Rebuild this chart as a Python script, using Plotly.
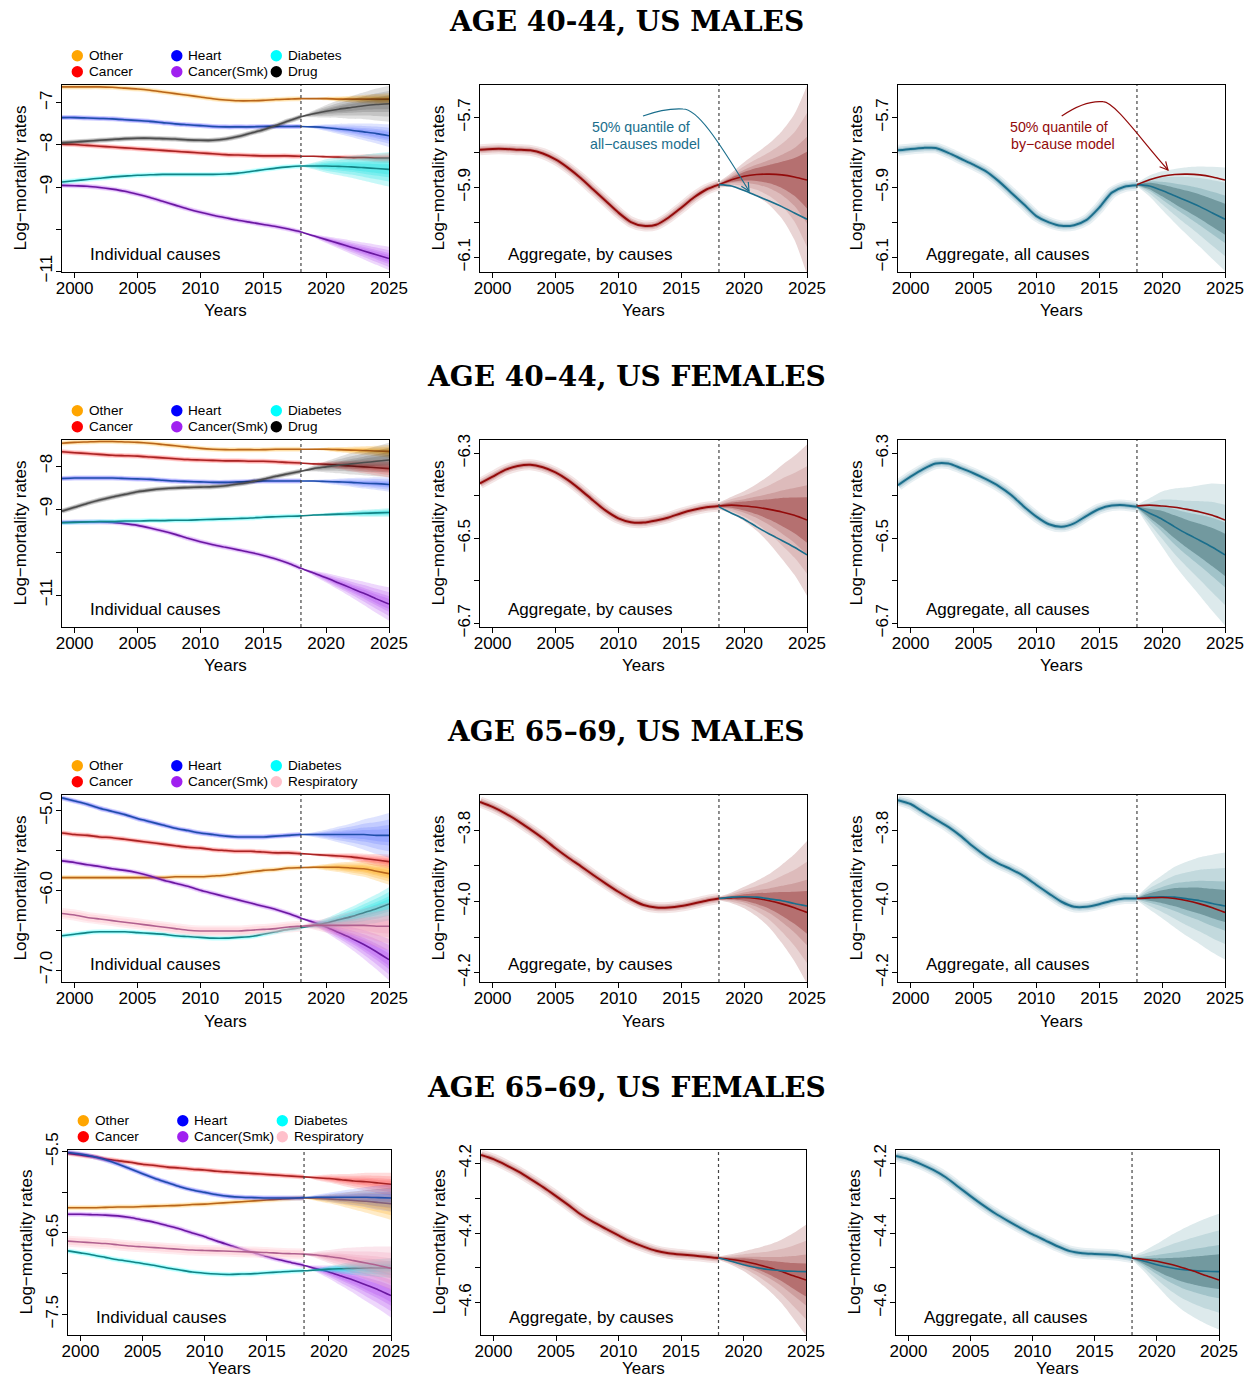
import math
import plotly.graph_objects as go

# ---------------------------------------------------------------- data
YEARS = list(range(1999, 2026))          # 1999..2025
HIST_YEARS = list(range(1999, 2019))     # 1999..2018
FC_YEARS = list(range(2018, 2026))       # 2018..2025
X_TICKS = [2000, 2005, 2010, 2015, 2020, 2025]

# --- AGE 40-44, US MALES : cause-specific medians (1999..2025)
m40_other = [-6.62, -6.62, -6.62, -6.62, -6.63, -6.65, -6.67, -6.70, -6.74, -6.78, -6.82, -6.86, -6.90, -6.93,
             -6.95, -6.95, -6.94, -6.92, -6.91, -6.90, -6.90, -6.90, -6.91, -6.91, -6.91, -6.91, -6.91]
m40_cancer = [-7.98, -7.99, -8.01, -8.03, -8.05, -8.07, -8.09, -8.11, -8.13, -8.15, -8.17, -8.19, -8.21, -8.23,
              -8.24, -8.25, -8.26, -8.26, -8.26, -8.27, -8.27, -8.28, -8.29, -8.30, -8.30, -8.31, -8.31]
m40_heart = [-7.35, -7.35, -7.36, -7.37, -7.38, -7.40, -7.42, -7.44, -7.47, -7.50, -7.52, -7.54, -7.56, -7.57,
             -7.57, -7.57, -7.56, -7.56, -7.56, -7.56, -7.57, -7.59, -7.62, -7.65, -7.69, -7.73, -7.78]
m40_smk = [-8.96, -8.97, -8.98, -9.01, -9.05, -9.10, -9.17, -9.25, -9.34, -9.43, -9.52, -9.60, -9.67, -9.73,
           -9.79, -9.84, -9.89, -9.94, -10.00, -10.07, -10.16, -10.25, -10.34, -10.43, -10.52, -10.61, -10.70]
m40_diab = [-8.88, -8.85, -8.82, -8.79, -8.76, -8.74, -8.72, -8.71, -8.70, -8.70, -8.70, -8.70, -8.70, -8.69,
            -8.67, -8.63, -8.59, -8.55, -8.52, -8.50, -8.50, -8.50, -8.51, -8.52, -8.54, -8.56, -8.58]
m40_drug = [-7.95, -7.93, -7.91, -7.89, -7.87, -7.85, -7.84, -7.84, -7.85, -7.86, -7.88, -7.89, -7.89, -7.86,
            -7.80, -7.72, -7.64, -7.54, -7.43, -7.33, -7.26, -7.20, -7.15, -7.11, -7.07, -7.04, -7.02]
# outer fan half-widths, 2018..2025
m40_other_sp = [0.005, 0.02, 0.04, 0.06, 0.08, 0.10, 0.12, 0.14]
m40_cancer_sp = [0.005, 0.02, 0.035, 0.05, 0.065, 0.08, 0.10, 0.12]
m40_heart_sp = [0.005, 0.04, 0.08, 0.12, 0.16, 0.20, 0.235, 0.27]
m40_smk_sp = [0.005, 0.04, 0.08, 0.12, 0.16, 0.20, 0.24, 0.28]
m40_diab_sp = [0.01, 0.08, 0.16, 0.21, 0.26, 0.31, 0.36, 0.41]
m40_drug_sp = [0.01, 0.08, 0.15, 0.21, 0.27, 0.32, 0.38, 0.43]

# --- AGE 40-44, US FEMALES
f40_other = [-7.47, -7.45, -7.44, -7.43, -7.43, -7.44, -7.45, -7.47, -7.50, -7.53, -7.56, -7.59, -7.61, -7.62,
             -7.62, -7.62, -7.62, -7.61, -7.61, -7.61, -7.61, -7.61, -7.62, -7.63, -7.64, -7.65, -7.66]
f40_cancer = [-7.67, -7.69, -7.71, -7.73, -7.75, -7.76, -7.77, -7.79, -7.81, -7.83, -7.85, -7.86, -7.87, -7.88,
              -7.88, -7.89, -7.89, -7.90, -7.92, -7.93, -7.95, -7.96, -7.98, -8.00, -8.02, -8.04, -8.06]
f40_heart = [-8.29, -8.28, -8.28, -8.28, -8.28, -8.29, -8.30, -8.31, -8.33, -8.35, -8.36, -8.37, -8.38, -8.38,
             -8.37, -8.36, -8.35, -8.35, -8.35, -8.35, -8.35, -8.36, -8.37, -8.38, -8.40, -8.41, -8.43]
f40_smk = [-9.31, -9.30, -9.30, -9.30, -9.31, -9.34, -9.38, -9.44, -9.51, -9.59, -9.68, -9.76, -9.83, -9.89,
           -9.95, -10.01, -10.08, -10.16, -10.26, -10.38, -10.49, -10.60, -10.72, -10.84, -10.96, -11.09, -11.21]
f40_diab = [-9.32, -9.31, -9.30, -9.29, -9.29, -9.28, -9.28, -9.27, -9.27, -9.26, -9.26, -9.25, -9.24, -9.23,
            -9.22, -9.21, -9.19, -9.18, -9.17, -9.16, -9.14, -9.13, -9.12, -9.11, -9.10, -9.09, -9.08]
f40_drug = [-9.05, -8.96, -8.87, -8.79, -8.72, -8.66, -8.60, -8.56, -8.53, -8.51, -8.50, -8.49, -8.48, -8.46,
            -8.42, -8.37, -8.31, -8.24, -8.18, -8.12, -8.06, -8.02, -7.98, -7.95, -7.92, -7.89, -7.86]
f40_other_sp = [0.005, 0.02, 0.04, 0.06, 0.08, 0.10, 0.12, 0.15]
f40_cancer_sp = [0.005, 0.03, 0.06, 0.09, 0.12, 0.15, 0.18, 0.21]
f40_heart_sp = [0.005, 0.025, 0.05, 0.075, 0.10, 0.125, 0.15, 0.17]
f40_smk_sp = [0.01, 0.06, 0.11, 0.16, 0.21, 0.27, 0.33, 0.39]
f40_diab_sp = [0.005, 0.02, 0.035, 0.05, 0.065, 0.08, 0.09, 0.10]
f40_drug_sp = [0.01, 0.07, 0.13, 0.19, 0.25, 0.30, 0.35, 0.40]

# --- AGE 65-69, US MALES
m65_other = [-5.84, -5.84, -5.84, -5.84, -5.84, -5.84, -5.84, -5.84, -5.84, -5.83, -5.83, -5.83, -5.82, -5.81,
             -5.79, -5.77, -5.75, -5.74, -5.72, -5.715, -5.71, -5.71, -5.71, -5.72, -5.73, -5.76, -5.79]
m65_cancer = [-5.28, -5.30, -5.31, -5.33, -5.34, -5.36, -5.38, -5.40, -5.42, -5.44, -5.46, -5.47, -5.49, -5.50,
              -5.51, -5.51, -5.52, -5.53, -5.53, -5.54, -5.55, -5.56, -5.57, -5.58, -5.60, -5.62, -5.64]
m65_heart = [-4.84, -4.88, -4.92, -4.97, -5.01, -5.05, -5.10, -5.14, -5.18, -5.22, -5.25, -5.28, -5.30, -5.32,
             -5.33, -5.33, -5.33, -5.32, -5.31, -5.30, -5.30, -5.30, -5.30, -5.30, -5.30, -5.31, -5.31]
m65_smk = [-5.63, -5.65, -5.68, -5.70, -5.73, -5.75, -5.78, -5.82, -5.87, -5.91, -5.95, -6.00, -6.04, -6.08,
           -6.12, -6.16, -6.20, -6.24, -6.29, -6.35, -6.40, -6.46, -6.53, -6.60, -6.68, -6.77, -6.87]
m65_diab = [-6.57, -6.55, -6.53, -6.52, -6.52, -6.52, -6.53, -6.54, -6.55, -6.57, -6.58, -6.59, -6.60, -6.60,
            -6.59, -6.58, -6.55, -6.52, -6.49, -6.47, -6.44, -6.41, -6.37, -6.33, -6.28, -6.23, -6.17]
m65_resp = [-6.29, -6.31, -6.34, -6.36, -6.38, -6.40, -6.42, -6.44, -6.46, -6.48, -6.50, -6.51, -6.51, -6.51,
            -6.51, -6.50, -6.49, -6.48, -6.46, -6.45, -6.44, -6.44, -6.44, -6.44, -6.44, -6.45, -6.45]
m65_other_sp = [0.005, 0.02, 0.04, 0.06, 0.08, 0.10, 0.12, 0.14]
m65_cancer_sp = [0.005, 0.015, 0.025, 0.035, 0.045, 0.06, 0.075, 0.09]
m65_heart_sp = [0.005, 0.03, 0.06, 0.10, 0.14, 0.19, 0.235, 0.28]
m65_smk_sp = [0.005, 0.035, 0.07, 0.10, 0.14, 0.18, 0.22, 0.26]
m65_diab_sp = [0.005, 0.03, 0.06, 0.09, 0.12, 0.15, 0.18, 0.21]
m65_resp_sp = [0.01, 0.05, 0.09, 0.13, 0.17, 0.21, 0.26, 0.30]

# --- AGE 65-69, US FEMALES
f65_other = [-6.19, -6.19, -6.19, -6.185, -6.18, -6.18, -6.175, -6.17, -6.165, -6.16, -6.15, -6.145, -6.135, -6.125,
             -6.115, -6.105, -6.095, -6.085, -6.075, -6.07, -6.075, -6.08, -6.09, -6.10, -6.11, -6.125, -6.14]
f65_cancer = [-5.52, -5.54, -5.56, -5.59, -5.61, -5.63, -5.655, -5.67, -5.69, -5.70, -5.715, -5.725, -5.74, -5.75,
              -5.76, -5.77, -5.78, -5.79, -5.80, -5.81, -5.82, -5.83, -5.845, -5.86, -5.87, -5.885, -5.90]
f65_heart = [-5.51, -5.53, -5.56, -5.60, -5.65, -5.71, -5.77, -5.83, -5.88, -5.93, -5.97, -6.00, -6.03, -6.05,
             -6.06, -6.065, -6.07, -6.07, -6.07, -6.065, -6.06, -6.06, -6.06, -6.06, -6.06, -6.065, -6.07]
f65_smk = [-6.27, -6.27, -6.275, -6.28, -6.29, -6.31, -6.34, -6.37, -6.41, -6.45, -6.50, -6.545, -6.60, -6.65,
           -6.70, -6.745, -6.79, -6.83, -6.865, -6.90, -6.94, -6.98, -7.03, -7.08, -7.14, -7.20, -7.27]
f65_diab = [-6.72, -6.745, -6.77, -6.80, -6.83, -6.85, -6.875, -6.90, -6.93, -6.955, -6.98, -6.995, -7.005, -7.01,
            -7.005, -7.0, -6.99, -6.98, -6.97, -6.965, -6.955, -6.945, -6.94, -6.935, -6.93, -6.93, -6.93]
f65_resp = [-6.60, -6.61, -6.62, -6.63, -6.645, -6.66, -6.67, -6.68, -6.69, -6.70, -6.71, -6.715, -6.72, -6.725,
            -6.73, -6.735, -6.74, -6.75, -6.755, -6.76, -6.77, -6.79, -6.81, -6.84, -6.87, -6.90, -6.935]
f65_other_sp = [0.005, 0.03, 0.055, 0.08, 0.11, 0.14, 0.17, 0.20]
f65_cancer_sp = [0.005, 0.03, 0.05, 0.07, 0.09, 0.11, 0.125, 0.14]
f65_heart_sp = [0.005, 0.03, 0.055, 0.08, 0.10, 0.125, 0.15, 0.17]
f65_smk_sp = [0.005, 0.04, 0.08, 0.12, 0.16, 0.20, 0.235, 0.27]
f65_diab_sp = [0.005, 0.02, 0.04, 0.06, 0.08, 0.10, 0.11, 0.12]
f65_resp_sp = [0.005, 0.04, 0.08, 0.12, 0.16, 0.20, 0.235, 0.27]

# --- aggregate log-mortality: fitted history (1999..2018), 50% quantiles and fan half-widths (2018..2025)
m40_hist_bc = [-5.792, -5.790, -5.790, -5.792, -5.794, -5.803, -5.820, -5.844, -5.873, -5.906, -5.939, -5.972,
               -5.999, -6.010, -6.007, -5.986, -5.958, -5.929, -5.906, -5.892]
m40_hist_ac = [-5.794, -5.790, -5.787, -5.787, -5.801, -5.818, -5.835, -5.854, -5.882, -5.915, -5.948, -5.982,
               -6.000, -6.010, -6.008, -5.993, -5.958, -5.915, -5.898, -5.894]
m40_fc_bc = [-5.892, -5.878, -5.868, -5.863, -5.862, -5.864, -5.870, -5.879]
m40_fc_ac = [-5.892, -5.896, -5.909, -5.924, -5.939, -5.955, -5.973, -5.991]
m40_sp_bc = [0.008, 0.02, 0.04, 0.062, 0.088, 0.125, 0.18, 0.27]
m40_sp_ac = [0.005, 0.03, 0.055, 0.077, 0.097, 0.115, 0.132, 0.148]

f40_hist_bc = [-6.371, -6.355, -6.339, -6.330, -6.327, -6.333, -6.345, -6.363, -6.386, -6.411, -6.435, -6.453,
               -6.462, -6.463, -6.458, -6.451, -6.441, -6.433, -6.427, -6.424]
f40_hist_ac = [-6.375, -6.355, -6.337, -6.324, -6.324, -6.335, -6.347, -6.361, -6.377, -6.398, -6.425, -6.449,
               -6.467, -6.473, -6.465, -6.447, -6.431, -6.423, -6.422, -6.426]
f40_fc_bc = [-6.424, -6.422, -6.424, -6.427, -6.432, -6.438, -6.446, -6.457]
f40_fc_ac = [-6.426, -6.441, -6.455, -6.473, -6.490, -6.505, -6.521, -6.539]
f40_sp_bc = [0.008, 0.02, 0.035, 0.055, 0.08, 0.11, 0.14, 0.178]
f40_sp_ac = [0.005, 0.035, 0.065, 0.09, 0.11, 0.13, 0.15, 0.166]

m65_hist_bc = [-3.721, -3.735, -3.753, -3.774, -3.798, -3.823, -3.851, -3.877, -3.901, -3.926, -3.950, -3.973,
               -3.994, -4.010, -4.017, -4.017, -4.013, -4.006, -3.998, -3.992]
m65_hist_ac = [-3.716, -3.727, -3.749, -3.770, -3.791, -3.817, -3.847, -3.873, -3.894, -3.910, -3.929, -3.954,
               -3.978, -4.001, -4.015, -4.015, -4.008, -3.998, -3.992, -3.992]
m65_fc_bc = [-3.992, -3.990, -3.989, -3.992, -3.998, -4.007, -4.018, -4.031]
m65_fc_ac = [-3.992, -3.988, -3.987, -3.988, -3.993, -3.998, -4.006, -4.013]
m65_sp_bc = [0.005, 0.015, 0.03, 0.05, 0.075, 0.11, 0.15, 0.20]
m65_sp_ac = [0.005, 0.035, 0.06, 0.085, 0.105, 0.122, 0.137, 0.15]

f65_hist_bc = [-4.176, -4.188, -4.205, -4.224, -4.246, -4.269, -4.294, -4.320, -4.347, -4.369, -4.388, -4.407,
               -4.425, -4.439, -4.451, -4.458, -4.462, -4.465, -4.468, -4.472]
f65_hist_ac = [-4.179, -4.188, -4.202, -4.219, -4.240, -4.267, -4.294, -4.320, -4.344, -4.365, -4.385, -4.404,
               -4.421, -4.438, -4.452, -4.458, -4.460, -4.462, -4.465, -4.471]
f65_fc_bc = [-4.472, -4.476, -4.481, -4.489, -4.499, -4.510, -4.523, -4.535]
f65_fc_ac = [-4.472, -4.481, -4.491, -4.499, -4.505, -4.508, -4.510, -4.511]
f65_sp_bc = [0.005, 0.015, 0.028, 0.045, 0.065, 0.09, 0.123, 0.159]
f65_sp_ac = [0.005, 0.03, 0.06, 0.09, 0.115, 0.135, 0.152, 0.166]

# fan levels as fractions of the outer half-width (outer -> inner)
BAND_FRAC = [1.0, 0.71, 0.46, 0.30]

ROW_TITLES = ["AGE 40-44, US MALES", "AGE 40\u201344, US FEMALES",
              "AGE 65\u201369, US MALES", "AGE 65\u201369, US FEMALES"]
PANEL_LABELS = ["Individual causes", "Aggregate, by causes", "Aggregate, all causes"]

# ---------------------------------------------------------------- styles
CAUSE_STYLE = {
    "Other": dict(dot="#FFA500", line="#B8651B", fill="rgba(255,165,0,0.22)"),
    "Cancer": dict(dot="#FF0000", line="#A82424", fill="rgba(255,40,40,0.16)"),
    "Heart": dict(dot="#0000FF", line="#1F4EAA", fill="rgba(60,90,255,0.17)"),
    "Cancer(Smk)": dict(dot="#A020F0", line="#6A18A0", fill="rgba(160,32,240,0.18)"),
    "Diabetes": dict(dot="#00FFFF", line="#138486", fill="rgba(0,225,225,0.22)"),
    "Drug": dict(dot="#000000", line="#4D4D4D", fill="rgba(0,0,0,0.12)"),
    "Respiratory": dict(dot="#FFC0CB", line="#B0608F", fill="rgba(235,140,175,0.22)"),
}
RED_LINE = "#930A0A"
BLUE_LINE = "#1A6E8C"
RED_FAN = ["#E9D4D4", "#DDBBBB", "#CE9F9F", "#B57070"]
BLUE_FAN = ["#DDEAEC", "#C2D9DD", "#A1C3C9", "#72999F"]

ROWS = [
    dict(causes=[("Other", m40_other, m40_other_sp), ("Cancer", m40_cancer, m40_cancer_sp),
                 ("Heart", m40_heart, m40_heart_sp), ("Cancer(Smk)", m40_smk, m40_smk_sp),
                 ("Diabetes", m40_diab, m40_diab_sp), ("Drug", m40_drug, m40_drug_sp)],
         hist_bc=m40_hist_bc, hist_ac=m40_hist_ac, fc_bc=m40_fc_bc, fc_ac=m40_fc_ac,
         sp_bc=m40_sp_bc, sp_ac=m40_sp_ac,
         yc=dict(rng=[-11.02, -6.575], vals=[-7, -8, -9, -10, -11], txt=["\u22127", "\u22128", "\u22129", "", "\u221211"]),
         ya=dict(rng=[-6.142, -5.607], vals=[-5.7, -5.8, -5.9, -6.0, -6.1], txt=["\u22125.7", "", "\u22125.9", "", "\u22126.1"])),
    dict(causes=[("Other", f40_other, f40_other_sp), ("Cancer", f40_cancer, f40_cancer_sp),
                 ("Heart", f40_heart, f40_heart_sp), ("Cancer(Smk)", f40_smk, f40_smk_sp),
                 ("Diabetes", f40_diab, f40_diab_sp), ("Drug", f40_drug, f40_drug_sp)],
         hist_bc=f40_hist_bc, hist_ac=f40_hist_ac, fc_bc=f40_fc_bc, fc_ac=f40_fc_ac,
         sp_bc=f40_sp_bc, sp_ac=f40_sp_ac,
         yc=dict(rng=[-11.744, -7.395], vals=[-8, -9, -10, -11], txt=["\u22128", "\u22129", "", "\u221211"]),
         ya=dict(rng=[-6.7087, -6.2687], vals=[-6.3, -6.4, -6.5, -6.6, -6.7], txt=["\u22126.3", "", "\u22126.5", "", "\u22126.7"])),
    dict(causes=[("Other", m65_other, m65_other_sp), ("Cancer", m65_cancer, m65_cancer_sp),
                 ("Heart", m65_heart, m65_heart_sp), ("Cancer(Smk)", m65_smk, m65_smk_sp),
                 ("Diabetes", m65_diab, m65_diab_sp), ("Respiratory", m65_resp, m65_resp_sp)],
         hist_bc=m65_hist_bc, hist_ac=m65_hist_ac, fc_bc=m65_fc_bc, fc_ac=m65_fc_ac,
         sp_bc=m65_sp_bc, sp_ac=m65_sp_ac,
         yc=dict(rng=[-7.15, -4.804], vals=[-5.0, -5.5, -6.0, -6.5, -7.0], txt=["\u22125.0", "", "\u22126.0", "", "\u22127.0"]),
         ya=dict(rng=[-4.226, -3.7017], vals=[-3.8, -3.9, -4.0, -4.1, -4.2], txt=["\u22123.8", "", "\u22124.0", "", "\u22124.2"])),
    dict(causes=[("Other", f65_other, f65_other_sp), ("Cancer", f65_cancer, f65_cancer_sp),
                 ("Heart", f65_heart, f65_heart_sp), ("Cancer(Smk)", f65_smk, f65_smk_sp),
                 ("Diabetes", f65_diab, f65_diab_sp), ("Respiratory", f65_resp, f65_resp_sp)],
         hist_bc=f65_hist_bc, hist_ac=f65_hist_ac, fc_bc=f65_fc_bc, fc_ac=f65_fc_ac,
         sp_bc=f65_sp_bc, sp_ac=f65_sp_ac,
         yc=dict(rng=[-7.755, -5.479], vals=[-5.5, -6.0, -6.5, -7.0, -7.5], txt=["\u22125.5", "", "\u22126.5", "", "\u22127.5"]),
         ya=dict(rng=[-4.693, -4.1616], vals=[-4.2, -4.3, -4.4, -4.5, -4.6], txt=["\u22124.2", "", "\u22124.4", "", "\u22124.6"])),
]
LEGEND_COLS = [["Other", "Cancer"], ["Heart", "Cancer(Smk)"]]

# ---------------------------------------------------------------- layout geometry (pixels)
W, H = 1247, 1379
FONT = "Liberation Sans, Arial, Helvetica, sans-serif"
SERIF = "DejaVu Serif, serif"
PANEL_X = [[(62, 389), (480, 807), (898, 1225)]] * 3 + [[(68, 391), (481, 806), (896, 1219)]]
PANEL_Y = [(85, 272), (440, 627), (795, 982), (1150, 1335)]
TITLE_Y = [21, 377, 732, 1087]
YEARS_GAP = [39, 39, 39, 33]


def px(x):
    return x / W


def py(y):
    return 1 - y / H


fig = go.Figure()
layout = dict(width=W, height=H, autosize=False, margin=dict(l=0, r=0, t=0, b=0, pad=0, autoexpand=False),
              paper_bgcolor="white", plot_bgcolor="white", showlegend=False)
annotations, shapes = [], []


def refs(k):
    return ("x" if k == 1 else f"x{k}"), ("y" if k == 1 else f"y{k}")


def add_fan(xr, yr, med, spread, colors):
    for f, col in zip(BAND_FRAC, colors):
        lo = [m - f * s for m, s in zip(med, spread)]
        hi = [m + f * s for m, s in zip(med, spread)]
        fig.add_trace(go.Scatter(x=FC_YEARS, y=lo, xaxis=xr, yaxis=yr, mode="lines",
                                 line=dict(width=0, shape="spline", smoothing=0.7), hoverinfo="skip"))
        fig.add_trace(go.Scatter(x=FC_YEARS, y=hi, xaxis=xr, yaxis=yr, mode="lines",
                                 line=dict(width=0, shape="spline", smoothing=0.7),
                                 fill="tonexty", fillcolor=col, hoverinfo="skip"))


def add_line(xr, yr, x, y, color, width):
    fig.add_trace(go.Scatter(x=x, y=y, xaxis=xr, yaxis=yr, mode="lines",
                             line=dict(color=color, width=width, shape="spline", smoothing=0.7),
                             hoverinfo="skip"))


def rgba(hexcol, a):
    h = hexcol.lstrip("#")
    return f"rgba({int(h[0:2], 16)},{int(h[2:4], 16)},{int(h[4:6], 16)},{a})"


def add_blur(xr, yr, x, y, hexcol, widths=(11, 7, 4), alphas=(0.10, 0.16, 0.25)):
    for w_, a_ in zip(widths, alphas):
        add_line(xr, yr, x, y, rgba(hexcol, a_), w_)


for r, row in enumerate(ROWS):
    y0, y1 = PANEL_Y[r]
    for c in range(3):
        k = r * 3 + c + 1
        xr, yr = refs(k)
        x0, x1 = PANEL_X[r][c]
        ycfg = row["yc"] if c == 0 else row["ya"]
        axis_common = dict(showline=True, linecolor="black", linewidth=1, mirror=True, showgrid=False,
                           zeroline=False, ticks="outside", ticklen=5, tickwidth=1, tickcolor="black",
                           tickfont=dict(family=FONT, size=17, color="black"), fixedrange=True)
        layout["xaxis" if k == 1 else f"xaxis{k}"] = dict(
            domain=[px(x0), px(x1)], range=[1999, 2025], anchor=yr, ticklabelstandoff=-4,
            tickmode="array", tickvals=X_TICKS, ticktext=[str(v) for v in X_TICKS], **axis_common)
        layout["yaxis" if k == 1 else f"yaxis{k}"] = dict(
            domain=[py(y1), py(y0)], range=ycfg["rng"], anchor=xr, tickangle=-90, ticklabelstandoff=-3,
            tickmode="array", tickvals=ycfg["vals"], ticktext=ycfg["txt"], **axis_common)

        # traces
        if c == 0:
            for name, med, sp in row["causes"]:
                st = CAUSE_STYLE[name]
                add_fan(xr, yr, med[19:], sp, [st["fill"]] * len(BAND_FRAC))
                if name == "Respiratory":
                    add_blur(xr, yr, HIST_YEARS, med[:20], st["dot"], widths=(11, 7), alphas=(0.3, 0.4))
                else:
                    add_blur(xr, yr, HIST_YEARS, med[:20], st["dot"], widths=(5, 3), alphas=(0.18, 0.25))
                add_line(xr, yr, YEARS, med, st["line"], 1.6)
        elif c == 1:
            add_fan(xr, yr, row["fc_bc"], row["sp_bc"], RED_FAN)
            add_blur(xr, yr, HIST_YEARS, row["hist_bc"], RED_LINE)
            add_line(xr, yr, HIST_YEARS, row["hist_bc"], RED_LINE, 2)
            add_line(xr, yr, FC_YEARS, row["fc_bc"], RED_LINE, 1.6)
            add_line(xr, yr, FC_YEARS, row["fc_ac"], BLUE_LINE, 1.6)
        else:
            add_fan(xr, yr, row["fc_ac"], row["sp_ac"], BLUE_FAN)
            add_blur(xr, yr, HIST_YEARS, row["hist_ac"], BLUE_LINE)
            add_line(xr, yr, HIST_YEARS, row["hist_ac"], BLUE_LINE, 2)
            add_line(xr, yr, FC_YEARS, row["fc_ac"], BLUE_LINE, 1.6)
            add_line(xr, yr, FC_YEARS, row["fc_bc"], RED_LINE, 1.6)

        # forecast origin
        shapes.append(dict(type="line", xref=xr, yref=f"{yr} domain", x0=2018, x1=2018, y0=0, y1=1,
                           line=dict(color="#444444", width=1.2, dash="dot"), layer="above"))

        # axis titles
        annotations.append(dict(text="Years", xref="paper", yref="paper", x=px((x0 + x1) / 2),
                                y=py(y1 + YEARS_GAP[r]), showarrow=False, xanchor="center", yanchor="middle",
                                font=dict(family=FONT, size=17, color="black")))
        annotations.append(dict(text="Log\u2212mortality rates", xref="paper", yref="paper",
                                x=px(x0 - 42), y=py((y0 + y1) / 2), textangle=-90, showarrow=False,
                                xanchor="center", yanchor="middle",
                                font=dict(family=FONT, size=17, color="black")))
        # panel label
        annotations.append(dict(text=PANEL_LABELS[c], xref="paper", yref="paper", x=px(x0 + 25.5),
                                y=py(y1 - 17.5), showarrow=False, xanchor="left", yanchor="middle",
                                font=dict(family=FONT, size=17, color="black")))

    # legend of causes above the first panel
    x0 = PANEL_X[r][0][0]
    cols = LEGEND_COLS + [["Diabetes", row["causes"][5][0]]]
    for j, names in enumerate(cols):
        cx = x0 + 15.3 + j * 99.5
        for i, name in enumerate(names):
            cy = y0 - 29.3 + i * 16
            rad = 5.7
            shapes.append(dict(type="circle", xref="paper", yref="paper",
                               x0=px(cx - rad), x1=px(cx + rad), y0=py(cy + rad), y1=py(cy - rad),
                               fillcolor=CAUSE_STYLE[name]["dot"], line=dict(width=0)))
            annotations.append(dict(text=name, xref="paper", yref="paper", x=px(cx + 9.5), y=py(cy),
                                    showarrow=False, xanchor="left", yanchor="middle",
                                    font=dict(family=FONT, size=13.6, color="black")))

    annotations.append(dict(text=f"<b>{ROW_TITLES[r]}</b>", xref="paper", yref="paper", x=px(626),
                            y=py(TITLE_Y[r]), showarrow=False, xanchor="center", yanchor="middle",
                            font=dict(family=SERIF, size=28, color="black")))


# ---------------------------------------------------------------- curved call-out arrows (pixel space)
def curve_path(segs):
    out = []
    for cmd, pts in segs:
        out.append(cmd + " " + " ".join(f"{px(x):.5f},{py(y):.5f}" for x, y in pts))
    return " ".join(out)


def arrow_head(end, frm, length=9, ang=27):
    dx, dy = end[0] - frm[0], end[1] - frm[1]
    n = math.hypot(dx, dy)
    bx, by = -dx / n, -dy / n
    pts = []
    for s in (1, -1):
        a = math.radians(ang) * s
        wx = bx * math.cos(a) - by * math.sin(a)
        wy = bx * math.sin(a) + by * math.cos(a)
        pts.append((end[0] + length * wx, end[1] + length * wy))
    return curve_path([("M", [pts[0]]), ("L", [end]), ("L", [pts[1]])])


CALLOUTS = [
    dict(color=BLUE_LINE, text=["50% quantile of", "all\u2212causes model"], tx=[641, 645],
         segs=[("M", [(643, 116)]), ("Q", [(665, 108), (683, 109)]),
               ("C", [(697, 109), (716, 137), (749, 191)])]),
    dict(color=RED_LINE, text=["50% quantile of", "by\u2212cause model"], tx=[1059, 1063],
         segs=[("M", [(1061.7, 116)]), ("Q", [(1085, 100), (1103, 101.7)]),
               ("C", [(1115, 102), (1141, 140), (1168, 170)])]),
]
for co in CALLOUTS:
    shapes.append(dict(type="path", xref="paper", yref="paper", path=curve_path(co["segs"]),
                       line=dict(color=co["color"], width=1.2)))
    end = co["segs"][-1][1][-1]
    ctrl = co["segs"][-1][1][-2]
    shapes.append(dict(type="path", xref="paper", yref="paper", path=arrow_head(end, ctrl),
                       line=dict(color=co["color"], width=1.2)))
    for i, t in enumerate(co["text"]):
        annotations.append(dict(text=t, xref="paper", yref="paper", x=px(co["tx"][i]), y=py(127 + 16.7 * i),
                                showarrow=False, xanchor="center", yanchor="middle",
                                font=dict(family=FONT, size=14.2, color=co["color"])))

layout["annotations"] = annotations
layout["shapes"] = shapes
fig.update_layout(**layout)
fig.update_traces(showlegend=False)
fig.write_html("out.html", config={"displayModeBar": False},
               post_script="document.body.style.margin='0px';document.body.style.padding='0px';"
                           "document.documentElement.style.overflow='hidden';")
